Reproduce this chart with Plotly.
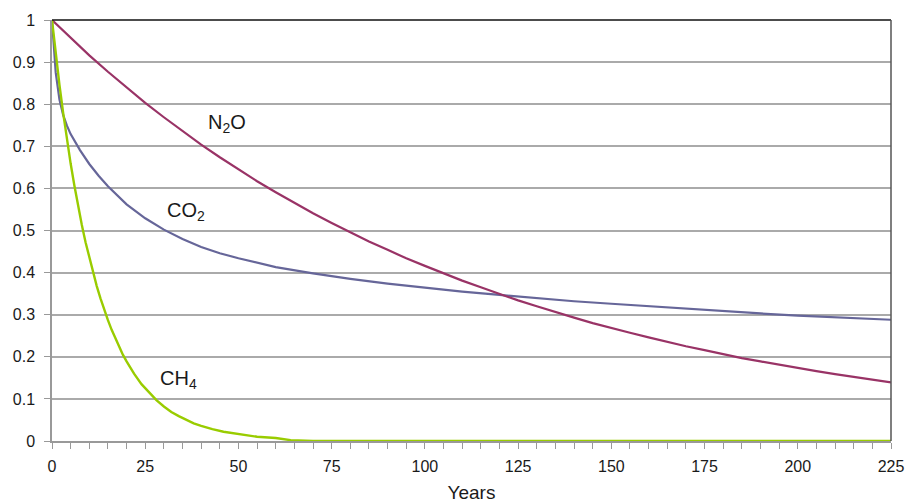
import plotly.graph_objects as go

# ---- data ----
n2o_years = [0, 5, 10, 15, 20, 25, 30, 35, 40, 45, 50, 55, 60, 65, 70, 75, 80, 85, 90, 95,
             100, 105, 110, 115, 120, 125, 130, 135, 140, 145, 150, 155, 160, 165, 170, 175,
             180, 185, 190, 195, 200, 205, 210, 215, 220, 225]
n2o_vals = [1.000, 0.957, 0.916, 0.877, 0.839, 0.803, 0.769, 0.736, 0.704, 0.674, 0.645,
            0.617, 0.591, 0.565, 0.541, 0.518, 0.496, 0.474, 0.454, 0.434, 0.416, 0.398,
            0.381, 0.365, 0.349, 0.334, 0.320, 0.306, 0.293, 0.280, 0.268, 0.257, 0.246,
            0.235, 0.225, 0.216, 0.206, 0.197, 0.189, 0.181, 0.173, 0.166, 0.159, 0.152,
            0.145, 0.139]

co2_years = [0, 1, 2, 3, 4, 5, 7.5, 10, 12.5, 15, 20, 25, 30, 35, 40, 45, 50, 60, 70, 80,
             90, 100, 110, 120, 130, 140, 150, 160, 170, 180, 190, 200, 210, 220, 225]
co2_vals = [1.000, 0.875, 0.811, 0.774, 0.749, 0.729, 0.691, 0.658, 0.630, 0.605, 0.562,
            0.529, 0.502, 0.480, 0.461, 0.446, 0.434, 0.413, 0.398, 0.385, 0.374, 0.364,
            0.355, 0.347, 0.339, 0.332, 0.326, 0.320, 0.314, 0.308, 0.303, 0.298, 0.294,
            0.290, 0.288]

ch4_years = [0, 1, 2, 3, 4, 5, 6, 7, 8, 9, 10, 11, 12, 13, 14, 15, 16, 17, 18, 19, 20,
             22, 24, 26, 28, 30, 32, 34, 36, 38, 40, 43, 46, 50, 55, 60, 64, 70, 225]
ch4_vals = [1.000, 0.920, 0.846, 0.779, 0.717, 0.659, 0.607, 0.558, 0.513, 0.472, 0.435,
            0.400, 0.368, 0.339, 0.311, 0.287, 0.264, 0.243, 0.223, 0.205, 0.189, 0.160,
            0.135, 0.115, 0.097, 0.082, 0.069, 0.059, 0.050, 0.042, 0.036, 0.028, 0.022,
            0.016, 0.010, 0.007, 0.002, 0.000, 0.000]

x_ticks = [0, 25, 50, 75, 100, 125, 150, 175, 200, 225]
y_ticks = [0, 0.1, 0.2, 0.3, 0.4, 0.5, 0.6, 0.7, 0.8, 0.9, 1]
y_tick_labels = ["0", "0.1", "0.2", "0.3", "0.4", "0.5", "0.6", "0.7", "0.8", "0.9", "1"]

labels = [
    ("N<sub>2</sub>O", 47, 0.755),
    ("CO<sub>2</sub>", 36, 0.545),
    ("CH<sub>4</sub>", 34, 0.145),
]

# ---- figure ----
fig = go.Figure()
fig.add_trace(go.Scatter(x=co2_years, y=co2_vals, mode="lines", name="CO2",
                         line=dict(color="#666699", width=2.2)))
fig.add_trace(go.Scatter(x=n2o_years, y=n2o_vals, mode="lines", name="N2O",
                         line=dict(color="#993366", width=2.2)))
fig.add_trace(go.Scatter(x=ch4_years, y=ch4_vals, mode="lines", name="CH4",
                         line=dict(color="#99cc00", width=2.4)))

for txt, lx, ly in labels:
    fig.add_annotation(x=lx, y=ly, text=txt, showarrow=False, xanchor="center",
                       yanchor="middle", font=dict(size=20, color="#1a1a1a",
                                                   family="Arial, Liberation Sans"))

fig.add_shape(type="line", xref="x domain", yref="y domain", x0=0, x1=1, y0=1, y1=1,
              line=dict(color="#111111", width=1.5), layer="above")
fig.add_shape(type="line", xref="x domain", yref="y domain", x0=1, x1=1, y0=0, y1=1,
              line=dict(color="#555555", width=1.5), layer="above")

fig.update_layout(
    width=914, height=503,
    margin=dict(l=52, r=23, t=20, b=62),
    paper_bgcolor="white", plot_bgcolor="white",
    showlegend=False,
    font=dict(family="Arial, Liberation Sans", size=16, color="#1a1a1a"),
)
fig.update_xaxes(
    range=[0, 225], tickvals=x_ticks, ticks="outside", ticklen=6, tickcolor="#999999",
    showline=True, linecolor="#999999", linewidth=1.5, showgrid=False, zeroline=False,
    minor=dict(dtick=5, tick0=0, ticks="outside", ticklen=6, tickcolor="#999999", showgrid=False),
    title=dict(text="Years", font=dict(size=19), standoff=12),
    tickfont=dict(size=16), ticklabelstandoff=4, automargin=False,
)
fig.update_yaxes(
    range=[0, 1], tickvals=y_ticks, ticktext=y_tick_labels, ticks="outside", ticklen=6,
    tickcolor="#999999", showline=True, linecolor="#999999", linewidth=1.5,
    showgrid=True, gridcolor="#aaaaaa", gridwidth=1.5, zeroline=False,
    tickfont=dict(size=16), ticklabelstandoff=6, automargin=False,
)

fig.write_html("out.html")
